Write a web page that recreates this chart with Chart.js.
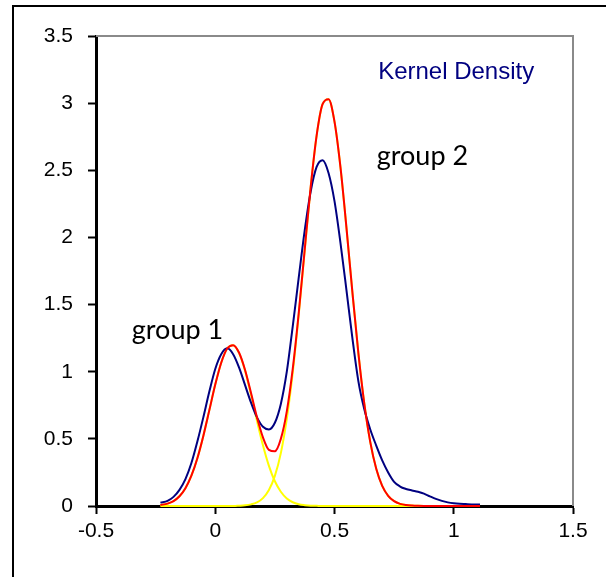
<!DOCTYPE html>
<html>
<head>
<meta charset="utf-8">
<script src="https://cdn.jsdelivr.net/npm/chart.js@4.4.0/dist/chart.umd.min.js"></script>
<style>
  html, body { margin: 0; padding: 0; background: #fff; }
  canvas { display: block; }
</style>
</head>
<body>
<canvas id="chart" width="606" height="577"></canvas>
<script>
// x positions the curves were read at
const xVals = [-0.23, -0.2, -0.175, -0.15, -0.125, -0.1, -0.075, -0.05, -0.025, 0,
  0.025, 0.05, 0.075, 0.1, 0.125, 0.15, 0.175, 0.2, 0.225, 0.25,
  0.275, 0.3, 0.325, 0.35, 0.375, 0.4, 0.425, 0.45, 0.475, 0.5,
  0.525, 0.55, 0.575, 0.6, 0.625, 0.65, 0.675, 0.7, 0.725, 0.75,
  0.775, 0.8, 0.825, 0.85, 0.875, 0.9, 0.925, 0.95, 0.975, 1.0,
  1.025, 1.05, 1.075, 1.11];

// kernel density (blue)
const kernel = [0.025, 0.038, 0.068, 0.12, 0.20, 0.32, 0.48, 0.66, 0.85, 1.02,
  1.13, 1.174, 1.13, 1.03, 0.90, 0.77, 0.66, 0.59, 0.57, 0.62,
  0.76, 1.00, 1.34, 1.70, 2.05, 2.34, 2.525, 2.575, 2.48, 2.27,
  1.96, 1.61, 1.25, 0.93, 0.72, 0.57, 0.45, 0.34, 0.25, 0.18,
  0.145, 0.127, 0.116, 0.106, 0.092, 0.072, 0.053, 0.038, 0.027, 0.020,
  0.016, 0.014, 0.012, 0.011];

// fitted mixture (red)
const mixture = [0.007, 0.018, 0.037, 0.073, 0.133, 0.226, 0.356, 0.522, 0.712, 0.904,
  1.067, 1.173, 1.198, 1.141, 1.013, 0.841, 0.661, 0.511, 0.418, 0.408,
  0.500, 0.705, 1.023, 1.437, 1.908, 2.373, 2.758, 2.992, 3.029, 2.862,
  2.523, 2.075, 1.593, 1.141, 0.762, 0.476, 0.277, 0.150, 0.076, 0.036,
  0.016, 0.007, 0.003, 0.001, 0, 0, 0, 0, 0, 0,
  0, 0, 0, 0];

// mixture components (yellow)
const group1 = [0.006, 0.018, 0.037, 0.073, 0.133, 0.226, 0.356, 0.522, 0.712, 0.904,
  1.067, 1.173, 1.198, 1.139, 1.008, 0.829, 0.634, 0.452, 0.299, 0.184,
  0.106, 0.056, 0.028, 0.013, 0.006, 0.002, 0.001, 0, 0, 0,
  0, 0, 0, 0, 0, 0, 0, 0, 0, 0,
  0, 0, 0, 0, 0, 0, 0, 0, 0, 0,
  0, 0, 0, 0];
const group2 = [0, 0, 0, 0, 0, 0, 0, 0, 0, 0,
  0, 0, 0, 0.002, 0.005, 0.012, 0.027, 0.059, 0.119, 0.224,
  0.394, 0.649, 0.995, 1.424, 1.902, 2.371, 2.757, 2.992, 3.029, 2.862,
  2.523, 2.075, 1.593, 1.141, 0.762, 0.476, 0.277, 0.150, 0.076, 0.036,
  0.016, 0.007, 0.003, 0.001, 0, 0, 0, 0, 0, 0,
  0, 0, 0, 0];

const xTickLabels = ['-0.5', '0', '0.5', '1', '1.5'];
const yTickLabels = ['0', '0.5', '1', '1.5', '2', '2.5', '3', '3.5'];

const pts = arr => xVals.map((x, i) => ({ x: x, y: arr[i] }));

const line = (data, color) => ({
  data: pts(data),
  borderColor: color,
  borderWidth: 2,
  pointRadius: 0,
  fill: false,
  cubicInterpolationMode: 'monotone',
  clip: false
});

// frame, plot-area edges and text labels
const decor = {
  id: 'decor',
  beforeDatasetsDraw(chart) {
    const { ctx, chartArea: a } = chart;
    ctx.save();
    ctx.strokeStyle = '#8a8a8a';
    ctx.lineWidth = 2;
    ctx.beginPath();
    ctx.moveTo(a.left, a.top);
    ctx.lineTo(a.right, a.top);
    ctx.lineTo(a.right, a.bottom);
    ctx.stroke();
    ctx.strokeStyle = '#000';
    ctx.beginPath();
    ctx.moveTo(13, 577);
    ctx.lineTo(13, 6);
    ctx.lineTo(606, 6);
    ctx.stroke();
    ctx.restore();
  },
  afterDatasetsDraw(chart) {
    const { ctx, scales: { x, y } } = chart;
    ctx.save();
    ctx.textBaseline = 'middle';
    ctx.textAlign = 'left';
    ctx.fillStyle = '#000080';
    ctx.font = '24px "Liberation Sans"';
    ctx.fillText('Kernel Density', x.getPixelForValue(0.683), y.getPixelForValue(3.23));
    ctx.fillStyle = '#000';
    ctx.font = '27px Lato';
    ctx.fillText('group 2', x.getPixelForValue(0.677), y.getPixelForValue(2.606));
    ctx.fillText('group 1', x.getPixelForValue(-0.35), y.getPixelForValue(1.31));
    ctx.restore();
  }
};

const ctx = document.getElementById('chart').getContext('2d');
new Chart(ctx, {
  type: 'line',
  data: {
    datasets: [
      line(mixture, '#ff0000'),
      line(kernel, '#000080'),
      line(group1, '#ffff00'),
      line(group2, '#ffff00')
    ]
  },
  options: {
    responsive: false,
    animation: false,
    layout: { padding: { left: 0, top: 36, right: 33, bottom: 31 } },
    plugins: { legend: { display: false }, tooltip: { enabled: false } },
    scales: {
      x: {
        type: 'linear',
        min: -0.5,
        max: 1.5,
        afterFit: s => { s.height = 40; },
        afterBuildTicks: s => { s.ticks = xTickLabels.map(t => ({ value: parseFloat(t) })); },
        ticks: {
          callback: (v, i) => xTickLabels[i],
          color: '#000',
          padding: 5,
          maxRotation: 0,
          font: { family: 'Liberation Sans', size: 21 }
        },
        grid: { drawOnChartArea: false, drawTicks: true, tickLength: 8, tickWidth: 2, tickColor: '#000' },
        border: { display: true, color: '#000', width: 3 }
      },
      y: {
        min: 0,
        max: 3.5,
        afterFit: s => { s.width = 96; },
        afterBuildTicks: s => { s.ticks = yTickLabels.map(t => ({ value: parseFloat(t) })); },
        ticks: {
          callback: (v, i) => yTickLabels[i],
          color: '#000',
          padding: 15,
          font: { family: 'Liberation Sans', size: 21 }
        },
        grid: { drawOnChartArea: false, drawTicks: true, tickLength: 8, tickWidth: 2, tickColor: '#000' },
        border: { display: true, color: '#000', width: 3 }
      }
    }
  },
  plugins: [decor]
});
</script>
</body>
</html>
